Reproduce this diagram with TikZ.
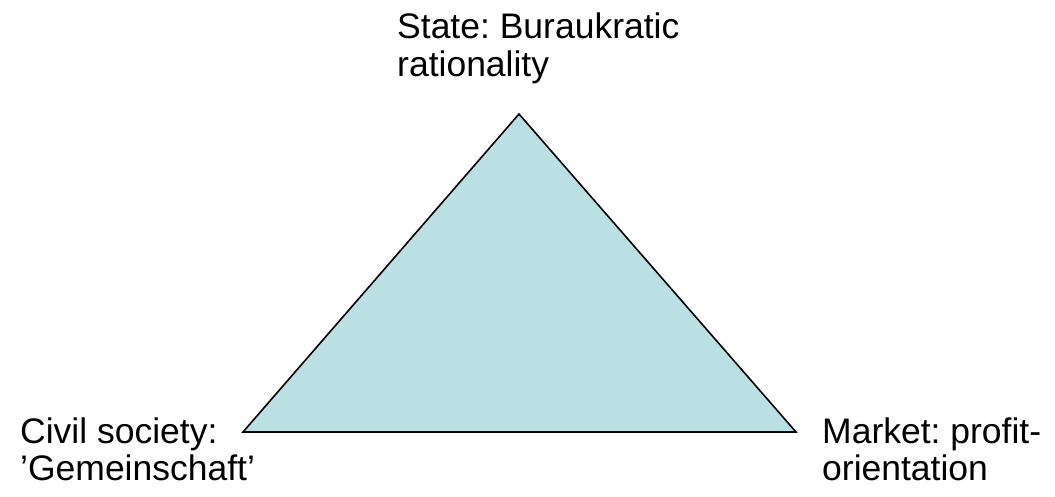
\documentclass[tikz,border=0pt]{standalone}
\usepackage{fontspec}
\setmainfont{Liberation Sans}
\frenchspacing
\definecolor{trifill}{RGB}{187,224,227}
\begin{document}
\begin{tikzpicture}[x=1pt,y=-1pt,
  lbl/.style={anchor=base west,inner sep=0pt,align=left,font=\fontsize{35.5}{37.5}\selectfont}]
\useasboundingbox (0,0) rectangle (1055,496);
\coordinate (top) at (519,114);
\coordinate (bl) at (243,432);
\coordinate (br) at (796,432);
\fill[trifill] (top) -- (bl) -- (br) -- cycle;
\draw[line width=1.6pt,line join=miter] (top) -- (bl) -- (br) -- cycle;
\node[lbl] (state) at (397,76) {State: Buraukratic\\rationality};
\node[lbl] (civil) at (20,480.5) {Civil society:\\'Gemeinschaft'};
\node[lbl] (market) at (822,480.5) {Market: profit-\\orientation};
\end{tikzpicture}
\end{document}
